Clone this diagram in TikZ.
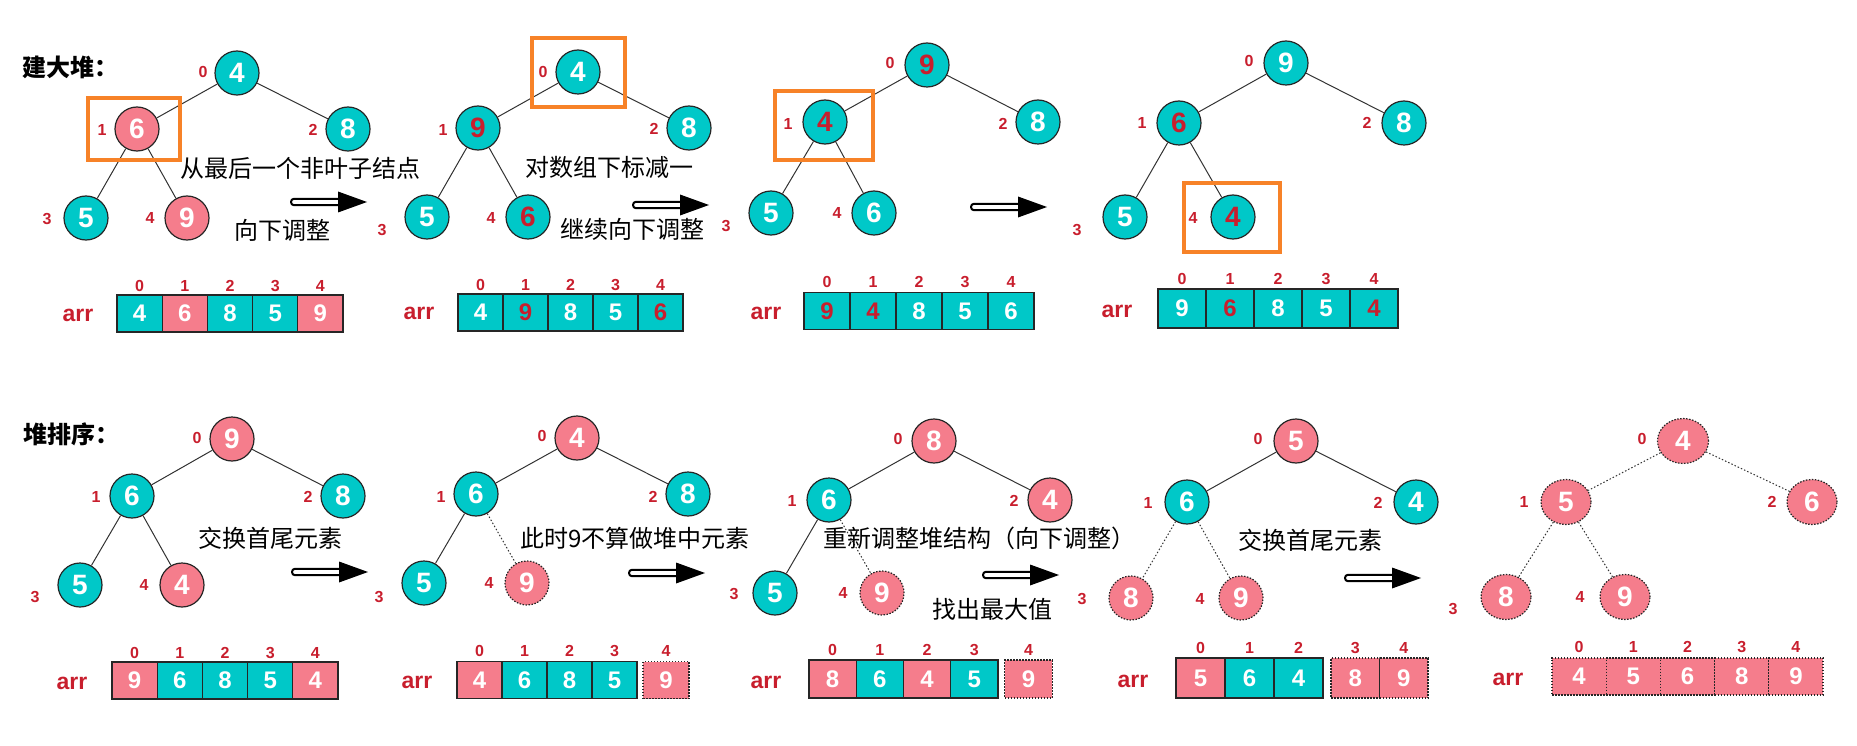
\documentclass[tikz,border=0pt]{standalone}
\usepackage{fontspec}
\setmainfont{Liberation Sans}
\newfontfamily\cjk{Noto Sans CJK SC}
\usepackage{tikz}
\usetikzlibrary{positioning,shapes.geometric}
\definecolor{heapteal}{RGB}{0,200,200}
\definecolor{heappink}{RGB}{245,125,140}
\definecolor{idxred}{RGB}{200,30,45}
\definecolor{boxorange}{RGB}{247,130,40}
\tikzset{pics/movearrow/.style={code={
  \draw[line width=2pt, fill=white, rounded corners=3pt] (1,-3.2) rectangle (52,3.2);
  \fill (48,-10.5) -- (77,0) -- (48,10.5) -- cycle;}}}

\begin{document}
\begin{tikzpicture}[x=1pt,y=-1pt,
  hn/.style={circle, draw=black!85, line width=1.2pt, minimum size=44pt, inner sep=0pt,
    fill=heapteal, text=white, font=\bfseries\fontsize{28}{28}\selectfont},
  pk/.style={fill=heappink},
  rd/.style={text=idxred},
  gone/.style={dash pattern=on 1.5pt off 1.5pt},
  idx/.style={text=idxred, inner sep=0pt, font=\bfseries\fontsize{16}{16}\selectfont},
  arrlbl/.style={text=idxred, inner sep=0pt, font=\bfseries\fontsize{23}{23}\selectfont},
  cell/.style={rectangle, draw=black!85, line width=1.2pt, minimum height=37pt, inner sep=0pt,
    text=white, font=\bfseries\fontsize{24}{24}\selectfont},
  dcell/.style={cell, fill=heappink, dash pattern=on 1.5pt off 1.5pt},
  edge/.style={draw=black!80, line width=1pt},
  dedge/.style={edge, dash pattern=on 1.5pt off 2pt},
  obox/.style={draw=boxorange, line width=4pt},
  note/.style={inner sep=0pt, font=\cjk\fontsize{24}{26}\selectfont},
  title/.style={inner sep=0pt, font=\cjk\bfseries\fontsize{24}{26}\selectfont}]
\useasboundingbox (0,0) rectangle (1857,746);

% build the heap, step 1
\node[title, anchor=west] (titleTop) at (22,67) {建大堆：};
\node[hn] (a0) at (237,73) {4};
\node[hn, pk] (a1) at (137,129) {6};
\node[hn] (a2) at (348,129) {8};
\node[hn] (a3) at (86,218) {5};
\node[hn, pk] (a4) at (187,218) {9};
\draw[edge] (a0) -- (a1); \draw[edge] (a0) -- (a2);
\draw[edge] (a1) -- (a3); \draw[edge] (a1) -- (a4);
\node[idx] (la0) at (203,72) {0};
\node[idx] (la1) at (102,130) {1};
\node[idx] (la2) at (313,130) {2};
\node[idx] (la3) at (47,219) {3};
\node[idx] (la4) at (150,218) {4};
\draw[obox] (88,98) rectangle (180,160);
\node[note] (na1) at (300,168) {从最后一个非叶子结点};
\node[note] (na2) at (282,230) {向下调整};
\pic (arA) at (290,202) {movearrow};
\node[arrlbl] (arrA) at (78,315) {arr};
\foreach \v/\f/\c [count=\i from 0] in {4/heapteal/white,6/heappink/white,8/heapteal/white,5/heapteal/white,9/heappink/white}
  {\node[cell, fill=\f, text=\c, minimum width=45.2pt] (ca\i) at ({139.6+45.2*\i},313.5) {\v};
   \node[idx] (ia\i) at ({139.6+45.2*\i},286) {\i};}

% step 2
\node[hn] (b0) at (578,72) {4};
\node[hn, rd] (b1) at (478,128) {9};
\node[hn] (b2) at (689,128) {8};
\node[hn] (b3) at (427,217) {5};
\node[hn, rd] (b4) at (528,217) {6};
\draw[edge] (b0) -- (b1); \draw[edge] (b0) -- (b2);
\draw[edge] (b1) -- (b3); \draw[edge] (b1) -- (b4);
\node[idx] (lb0) at (543,72) {0};
\node[idx] (lb1) at (443,130) {1};
\node[idx] (lb2) at (654,129) {2};
\node[idx] (lb3) at (382,230) {3};
\node[idx] (lb4) at (491,218) {4};
\draw[obox] (532,38) rectangle (625,107);
\node[note] (nb1) at (609,167) {对数组下标减一};
\node[note] (nb2) at (632,229) {继续向下调整};
\pic (arB) at (632,205) {movearrow};
\node[arrlbl] (arrB) at (419,313) {arr};
\foreach \v/\c [count=\i from 0] in {4/white,9/idxred,8/white,5/white,6/idxred}
  {\node[cell, fill=heapteal, text=\c, minimum width=45pt] (cb\i) at ({480.5+45*\i},312.5) {\v};
   \node[idx] (ib\i) at ({480.5+45*\i},285) {\i};}

% step 3
\node[hn, rd] (c0) at (927,65) {9};
\node[hn, rd] (c1) at (825,122) {4};
\node[hn] (c2) at (1038,122) {8};
\node[hn] (c3) at (771,213) {5};
\node[hn] (c4) at (874,213) {6};
\draw[edge] (c0) -- (c1); \draw[edge] (c0) -- (c2);
\draw[edge] (c1) -- (c3); \draw[edge] (c1) -- (c4);
\node[idx] (lc0) at (890,63) {0};
\node[idx] (lc1) at (788,124) {1};
\node[idx] (lc2) at (1003,124) {2};
\node[idx] (lc3) at (726,226) {3};
\node[idx] (lc4) at (837,213) {4};
\draw[obox] (775,91) rectangle (873,160);
\pic (arC) at (970,207) {movearrow};
\node[arrlbl] (arrC) at (766,313) {arr};
\foreach \v/\c [count=\i from 0] in {9/idxred,4/idxred,8/white,5/white,6/white}
  {\node[cell, fill=heapteal, text=\c, minimum width=46pt] (cc\i) at ({827+46*\i},311) {\v};
   \node[idx] (ic\i) at ({827+46*\i},282) {\i};}

% step 4
\node[hn] (d0) at (1286,63) {9};
\node[hn, rd] (d1) at (1179,123) {6};
\node[hn] (d2) at (1404,123) {8};
\node[hn] (d3) at (1125,217) {5};
\node[hn, rd] (d4) at (1233,217) {4};
\draw[edge] (d0) -- (d1); \draw[edge] (d0) -- (d2);
\draw[edge] (d1) -- (d3); \draw[edge] (d1) -- (d4);
\node[idx] (ld0) at (1249,61) {0};
\node[idx] (ld1) at (1142,123) {1};
\node[idx] (ld2) at (1367,123) {2};
\node[idx] (ld3) at (1077,230) {3};
\node[idx] (ld4) at (1193,218) {4};
\draw[obox] (1184,183) rectangle (1280,252);
\node[arrlbl] (arrD) at (1117,311) {arr};
\foreach \v/\c [count=\i from 0] in {9/white,6/idxred,8/white,5/white,4/idxred}
  {\node[cell, fill=heapteal, text=\c, minimum width=48pt, minimum height=39pt] (cd\i) at ({1182+48*\i},308.5) {\v};
   \node[idx] (id\i) at ({1182+48*\i},279) {\i};}

% heap sort, step 1
\node[title, anchor=west] (titleBot) at (23,434) {堆排序：};
\node[hn, pk] (e0) at (232,439) {9};
\node[hn] (e1) at (132,496) {6};
\node[hn] (e2) at (343,496) {8};
\node[hn] (e3) at (80,585) {5};
\node[hn, pk] (e4) at (182,585) {4};
\draw[edge] (e0) -- (e1); \draw[edge] (e0) -- (e2);
\draw[edge] (e1) -- (e3); \draw[edge] (e1) -- (e4);
\node[idx] (le0) at (197,438) {0};
\node[idx] (le1) at (96,497) {1};
\node[idx] (le2) at (308,497) {2};
\node[idx] (le3) at (35,597) {3};
\node[idx] (le4) at (144,585) {4};
\node[note] (ne1) at (270,538) {交换首尾元素};
\pic (arE) at (291,572) {movearrow};
\node[arrlbl] (arrE) at (72,683) {arr};
\foreach \v/\f [count=\i from 0] in {9/heappink,6/heapteal,8/heapteal,5/heapteal,4/heappink}
  {\node[cell, fill=\f, minimum width=45.2pt] (ce\i) at ({134.6+45.2*\i},680.5) {\v};
   \node[idx] (ie\i) at ({134.6+45.2*\i},653) {\i};}

% step 2
\node[hn, pk] (f0) at (577,438) {4};
\node[hn] (f1) at (476,494) {6};
\node[hn] (f2) at (688,494) {8};
\node[hn] (f3) at (424,583) {5};
\node[hn, pk, gone] (f4) at (527,583) {9};
\draw[edge] (f0) -- (f1); \draw[edge] (f0) -- (f2);
\draw[edge] (f1) -- (f3); \draw[dedge] (f1) -- (f4);
\node[idx] (lf0) at (542,436) {0};
\node[idx] (lf1) at (441,497) {1};
\node[idx] (lf2) at (653,497) {2};
\node[idx] (lf3) at (379,597) {3};
\node[idx] (lf4) at (489,583) {4};
\node[note] (nf1) at (635,538) {此时9不算做堆中元素};
\pic (arF) at (628,573) {movearrow};
\node[arrlbl] (arrF) at (417,682) {arr};
\foreach \v/\f [count=\i from 0] in {4/heappink,6/heapteal,8/heapteal,5/heapteal}
  {\node[cell, fill=\f, minimum width=45pt] (cf\i) at ({479.5+45*\i},680) {\v};
   \node[idx] (if\i) at ({479.5+45*\i},651) {\i};}
\node[dcell, minimum width=46pt] (cf4) at (666,680) {9};
\node[idx] (if4) at (666,651) {4};

% step 3
\node[hn, pk] (g0) at (934,441) {8};
\node[hn] (g1) at (829,500) {6};
\node[hn, pk] (g2) at (1050,500) {4};
\node[hn] (g3) at (775,593) {5};
\node[hn, pk, gone] (g4) at (882,593) {9};
\draw[edge] (g0) -- (g1); \draw[edge] (g0) -- (g2);
\draw[edge] (g1) -- (g3); \draw[dedge] (g1) -- (g4);
\node[idx] (lg0) at (898,439) {0};
\node[idx] (lg1) at (792,501) {1};
\node[idx] (lg2) at (1014,501) {2};
\node[idx] (lg3) at (734,594) {3};
\node[idx] (lg4) at (843,593) {4};
\node[note] (ng1) at (979,538) {重新调整堆结构（向下调整）};
\node[note] (ng2) at (992,609) {找出最大值};
\pic (arG) at (982,575) {movearrow};
\node[arrlbl] (arrG) at (766,682) {arr};
\foreach \v/\f [count=\i from 0] in {8/heappink,6/heapteal,4/heappink,5/heapteal}
  {\node[cell, fill=\f, minimum width=47.25pt, minimum height=38pt] (cg\i) at ({832.6+47.25*\i},679) {\v};
   \node[idx] (ig\i) at ({832.6+47.25*\i},650) {\i};}
\node[dcell, minimum width=47.5pt, minimum height=38pt] (cg4) at (1028.5,679) {9};
\node[idx] (ig4) at (1028.5,650) {4};

% step 4
\node[hn, pk] (h0) at (1296,441) {5};
\node[hn] (h1) at (1187,502) {6};
\node[hn] (h2) at (1416,502) {4};
\node[hn, pk, gone] (h3) at (1131,598) {8};
\node[hn, pk, gone] (h4) at (1241,598) {9};
\draw[edge] (h0) -- (h1); \draw[edge] (h0) -- (h2);
\draw[dedge] (h1) -- (h3); \draw[dedge] (h1) -- (h4);
\node[idx] (lh0) at (1258,439) {0};
\node[idx] (lh1) at (1148,503) {1};
\node[idx] (lh2) at (1378,503) {2};
\node[idx] (lh3) at (1082,599) {3};
\node[idx] (lh4) at (1200,599) {4};
\node[note] (nh1) at (1310,540) {交换首尾元素};
\pic (arH) at (1344,578) {movearrow};
\node[arrlbl] (arrH) at (1133,681) {arr};
\foreach \v/\f [count=\i from 0] in {5/heappink,6/heapteal,4/heapteal}
  {\node[cell, fill=\f, minimum width=49pt, minimum height=40pt] (ch\i) at ({1200.5+49*\i},678) {\v};
   \node[idx] (ih\i) at ({1200.5+49*\i},648) {\i};}
\foreach \v [count=\i from 3] in {8,9}
  {\node[dcell, minimum width=48.5pt, minimum height=40pt] (ch\i) at ({1355.25+48.5*(\i-3)},678) {\v};
   \node[idx] (ih\i) at ({1355.25+48.5*(\i-3)},648) {\i};}

% step 5, everything sorted
\node[hn, pk, gone, ellipse, minimum width=51pt, minimum height=45pt] (i0) at (1683,441) {4};
\node[hn, pk, gone, ellipse, minimum width=50pt, minimum height=45pt] (i1) at (1566,502) {5};
\node[hn, pk, gone, ellipse, minimum width=50pt, minimum height=45pt] (i2) at (1812,502) {6};
\node[hn, pk, gone, ellipse, minimum width=50pt, minimum height=45pt] (i3) at (1506,597) {8};
\node[hn, pk, gone, ellipse, minimum width=50pt, minimum height=45pt] (i4) at (1625,597) {9};
\draw[dedge] (i0) -- (i1); \draw[dedge] (i0) -- (i2);
\draw[dedge] (i1) -- (i3); \draw[dedge] (i1) -- (i4);
\node[idx] (li0) at (1642,439) {0};
\node[idx] (li1) at (1524,502) {1};
\node[idx] (li2) at (1772,502) {2};
\node[idx] (li3) at (1453,609) {3};
\node[idx] (li4) at (1580,597) {4};
\node[arrlbl] (arrI) at (1508,679) {arr};
\foreach \v [count=\i from 0] in {4,5,6,8,9}
  {\node[dcell, minimum width=54.2pt] (ci\i) at ({1579.1+54.2*\i},676.5) {\v};
   \node[idx] (ii\i) at ({1579.1+54.2*\i},647) {\i};}
\end{tikzpicture}
\end{document}
